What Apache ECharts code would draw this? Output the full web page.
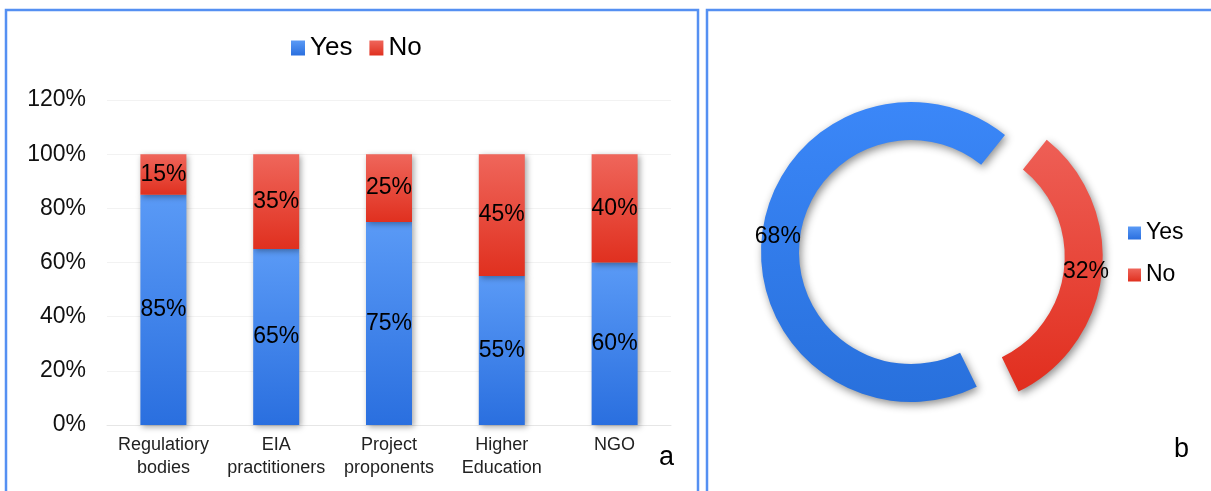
<!DOCTYPE html>
<html>
<head>
<meta charset="utf-8">
<style>
  html, body { margin: 0; padding: 0; background: #ffffff; }
  #chart { width: 1211px; height: 491px; }
</style>
<script src="https://cdn.jsdelivr.net/npm/echarts@6/dist/echarts.min.js"></script>
</head>
<body>
<div id="chart"></div>
<script>
// Panel a: stakeholder groups and their Yes / No shares (%)
const categories = ['Regulatiory\nbodies', 'EIA\npractitioners', 'Project\nproponents', 'Higher\nEducation', 'NGO'];
const yesValues = [85, 65, 75, 55, 60];
const noValues = [15, 35, 25, 45, 40];
const yAxisMax = 120;
const yAxisStep = 20;

// Panel b: overall Yes / No split (%)
const pieNames = ['Yes', 'No'];
const pieValues = [68, 32];

const FONT = 'Liberation Sans, Arial, sans-serif';

function vGrad(top, bottom) {
  return new echarts.graphic.LinearGradient(0, 0, 0, 1, [
    { offset: 0, color: top },
    { offset: 1, color: bottom }
  ]);
}

const blueBar = vGrad('#5a9af6', '#2a6fdf');
const redBar = vGrad('#ef665b', '#e0301f');
const bluePie = vGrad('#3b87f8', '#2870dc');
const redPie = vGrad('#ee5f56', '#e12e1e');

const barShadow = {
  shadowBlur: 6,
  shadowColor: 'rgba(0,0,0,0.35)',
  shadowOffsetX: 2,
  shadowOffsetY: 2
};

const chart = echarts.init(document.getElementById('chart'), null, { renderer: 'canvas' });

const option = {
  animation: false,
  textStyle: { fontFamily: FONT },
  legend: [
    {
      data: ['Yes', 'No'],
      left: 286,
      top: 30,
      icon: 'rect',
      itemWidth: 14,
      itemHeight: 15,
      itemGap: 17,
      textStyle: { fontSize: 26, color: '#000', fontFamily: FONT }
    },
    {
      data: ['Yes', 'No'],
      orient: 'vertical',
      left: 1123,
      top: 215,
      icon: 'rect',
      itemWidth: 13,
      itemHeight: 13,
      itemGap: 16,
      textStyle: { fontSize: 23, color: '#000', lineHeight: 26, fontFamily: FONT }
    }
  ],
  grid: {
    left: 107,
    right: 540,
    top: 100,
    bottom: 66
  },
  xAxis: {
    type: 'category',
    data: categories,
    axisLine: { lineStyle: { color: '#e6e6e6', width: 1 } },
    axisTick: { show: false },
    axisLabel: {
      fontSize: 18,
      lineHeight: 23,
      color: '#222',
      margin: 9,
      interval: 0
    }
  },
  yAxis: {
    type: 'value',
    min: 0,
    max: yAxisMax,
    interval: yAxisStep,
    axisLine: { show: false },
    axisTick: { show: false },
    splitLine: { lineStyle: { color: '#f2f2f2', width: 1 } },
    axisLabel: {
      formatter: '{value}%',
      fontSize: 23,
      color: '#111',
      margin: 21
    }
  },
  series: [
    {
      name: 'Yes',
      type: 'bar',
      stack: 'total',
      barWidth: 46,
      data: yesValues,
      itemStyle: Object.assign({ color: blueBar }, barShadow),
      label: {
        show: true,
        position: 'inside',
        formatter: '{c}%',
        fontSize: 23,
        color: '#000'
      }
    },
    {
      name: 'No',
      type: 'bar',
      stack: 'total',
      barWidth: 46,
      data: noValues,
      itemStyle: Object.assign({ color: redBar }, barShadow),
      label: {
        show: true,
        position: 'inside',
        formatter: '{c}%',
        fontSize: 23,
        color: '#000'
      }
    },
    {
      name: 'Overall',
      type: 'pie',
      center: [911, 252],
      radius: [112, 150],
      startAngle: 296,
      clockwise: true,
      selectedMode: 'single',
      selectedOffset: 42,
      avoidLabelOverlap: false,
      emphasis: { disabled: true },
      label: {
        show: true,
        position: 'inside',
        formatter: '{c}%',
        fontSize: 23,
        color: '#000'
      },
      labelLine: { show: false },
      itemStyle: {
        shadowBlur: 9,
        shadowColor: 'rgba(0,0,0,0.45)',
        shadowOffsetX: 2,
        shadowOffsetY: 3
      },
      data: [
        { name: pieNames[0], value: pieValues[0], itemStyle: { color: bluePie } },
        {
          name: pieNames[1], value: pieValues[1], selected: true,
          itemStyle: { color: redPie },
          select: { itemStyle: { color: redPie, borderWidth: 0 } }
        }
      ]
    }
  ],
  graphic: [
    {
      type: 'rect',
      shape: { x: 6, y: 10, width: 692, height: 500 },
      style: { fill: null, stroke: '#5590f2', lineWidth: 2.5 },
      silent: true
    },
    {
      type: 'rect',
      shape: { x: 707, y: 10, width: 520, height: 500 },
      style: { fill: null, stroke: '#5590f2', lineWidth: 2.5 },
      silent: true
    },
    {
      type: 'text',
      left: 659,
      top: 444,
      style: { text: 'a', fontSize: 27, fill: '#000', fontFamily: FONT },
      silent: true
    },
    {
      type: 'text',
      left: 1174,
      top: 436,
      style: { text: 'b', fontSize: 27, fill: '#000', fontFamily: FONT },
      silent: true
    }
  ]
};

chart.setOption(option);
</script>
</body>
</html>
